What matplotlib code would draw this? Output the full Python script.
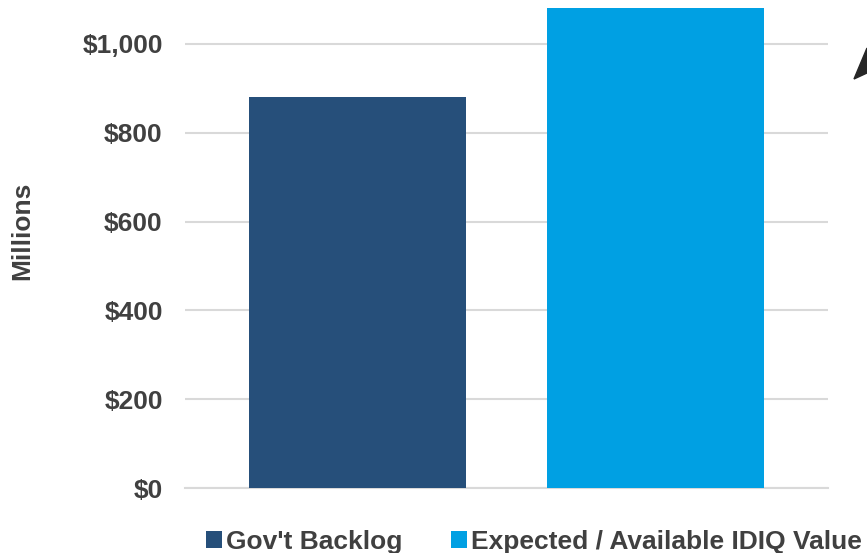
import matplotlib
matplotlib.use("Agg")
import matplotlib.pyplot as plt
from matplotlib.patches import Polygon
from matplotlib.ticker import FuncFormatter

series = ["Gov't Backlog", "Expected / Available IDIQ Value"]
values = [880, 1081]
colors = ["#264F7A", "#00A0E3"]
yticks = [0, 200, 400, 600, 800, 1000]

W, H = 867, 553
fig = plt.figure(figsize=(W / 100, H / 100), dpi=100)
plt.rcParams['font.family'] = ['Liberation Sans', 'DejaVu Sans']

# axes box in pixels: left 185, right 828, top 8, bottom 488
ax = fig.add_axes([185 / W, 1 - 488 / H, (828 - 185) / W, (488 - 8) / H])

for i, (name, v, c) in enumerate(zip(series, values, colors)):
    ax.bar(i, v, width=0.728, color=c, label=name, zorder=3)

ax.set_xlim(-0.579, 1.579)
ax.set_ylim(0, 1081)
ax.set_yticks(yticks)
ax.yaxis.set_major_formatter(FuncFormatter(lambda v, p: "${:,.0f}".format(v)))
ax.set_xticks([])
ax.grid(axis="y", color="#D9D9D9", linewidth=1.5, zorder=0)
ax.tick_params(axis="y", length=0, pad=16, labelsize=19, labelcolor="#404040")
for lbl in ax.get_yticklabels():
    lbl.set_fontweight("bold")
for s in ["top", "right", "left"]:
    ax.spines[s].set_visible(False)
ax.spines["bottom"].set_color("#D9D9D9")
ax.spines["bottom"].set_linewidth(1.5)

fig.text(22 / W, 1 - 231 / H, "Millions", rotation=90, ha="center", va="center",
         fontsize=19, fontweight="bold", color="#404040")

leg = fig.legend(loc="center left", bbox_to_anchor=(206 / W, 1 - 542 / H), ncol=2, frameon=False,
                 prop={"size": 19, "weight": "bold"}, handlelength=0.6, handleheight=0.6,
                 handletextpad=0.15, columnspacing=1.85, borderpad=0, borderaxespad=0,
                 labelcolor="#404040")

# clipped arrow tip at the top right edge
tri = [(854, 79), (867, 48), (867, 73)]
fig.patches.append(Polygon([(x / W, 1 - y / H) for x, y in tri], closed=True,
                           transform=fig.transFigure, color="#262626"))

fig.savefig("out.png", dpi=100)
